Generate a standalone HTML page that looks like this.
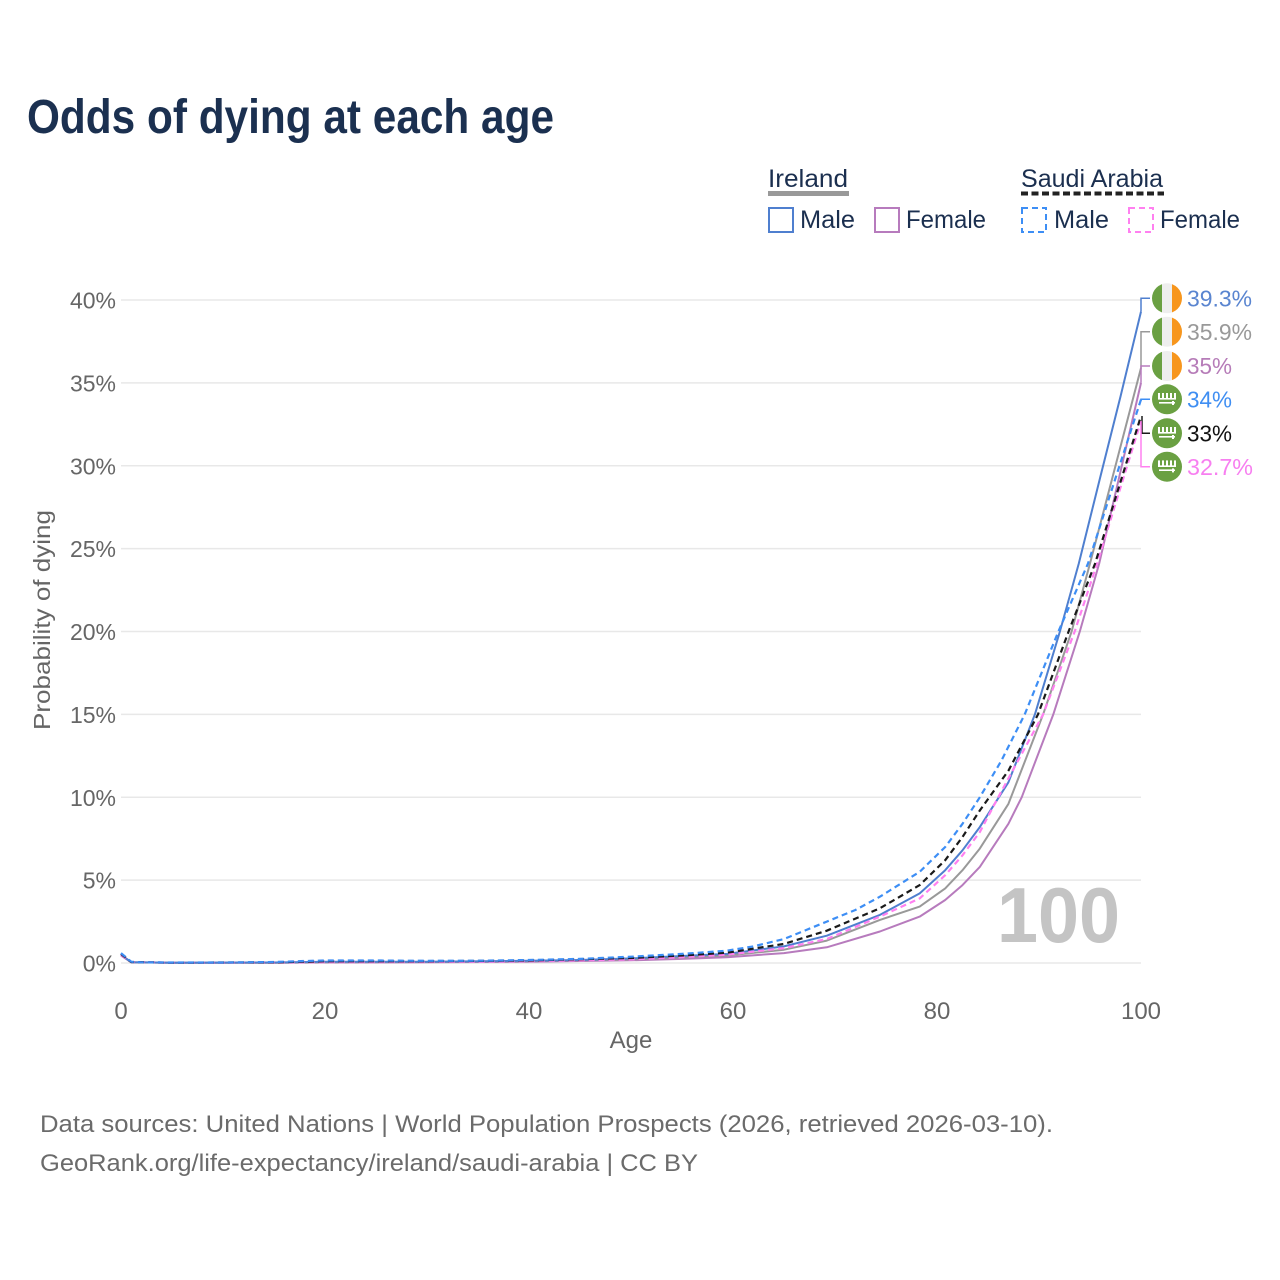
<!DOCTYPE html>
<html>
<head>
<meta charset="utf-8">
<style>
  html, body { margin: 0; padding: 0; background: #ffffff; }
  svg { display: block; }
  text { font-family: "Liberation Sans", sans-serif; }
</style>
</head>
<body>
<svg width="1280" height="1280" viewBox="0 0 1280 1280" xmlns="http://www.w3.org/2000/svg">
  <defs>
    <clipPath id="c1"><circle cx="1167" cy="298.3" r="15"/></clipPath>
    <clipPath id="c2"><circle cx="1167" cy="331.7" r="15"/></clipPath>
    <clipPath id="c3"><circle cx="1167" cy="366" r="15"/></clipPath>
  </defs>
  <rect width="1280" height="1280" fill="#ffffff"/>

  <!-- Title -->
  <text x="27" y="133" font-size="48" font-weight="bold" fill="#1b3050" textLength="527" lengthAdjust="spacingAndGlyphs">Odds of dying at each age</text>

  <!-- Legend -->
  <text x="768" y="187" font-size="25" fill="#1b2f4f" textLength="80" lengthAdjust="spacingAndGlyphs">Ireland</text>
  <rect x="768" y="191" width="81" height="5" fill="#999999"/>
  <text x="1021" y="187" font-size="25" fill="#1b2f4f" textLength="142" lengthAdjust="spacingAndGlyphs">Saudi Arabia</text>
  <line x1="1021" y1="193.5" x2="1164" y2="193.5" stroke="#222222" stroke-width="4" stroke-dasharray="7 3.5"/>

  <rect x="769" y="208" width="24" height="24" fill="none" stroke="#4f7fcf" stroke-width="2"/>
  <text x="800" y="228" font-size="25" fill="#1b2f4f" textLength="55" lengthAdjust="spacingAndGlyphs">Male</text>
  <rect x="875" y="208" width="24" height="24" fill="none" stroke="#b77bbd" stroke-width="2"/>
  <text x="906" y="228" font-size="25" fill="#1b2f4f" textLength="80" lengthAdjust="spacingAndGlyphs">Female</text>
  <rect x="1022" y="208" width="24" height="24" fill="none" stroke="#3d8ef5" stroke-width="2" stroke-dasharray="6 4"/>
  <text x="1054" y="228" font-size="25" fill="#1b2f4f" textLength="55" lengthAdjust="spacingAndGlyphs">Male</text>
  <rect x="1129" y="208" width="24" height="24" fill="none" stroke="#ff80f0" stroke-width="2" stroke-dasharray="6 4"/>
  <text x="1160" y="228" font-size="25" fill="#1b2f4f" textLength="80" lengthAdjust="spacingAndGlyphs">Female</text>

  <!-- Gridlines -->
  <g stroke="#e8e8e8" stroke-width="1.5">
    <line x1="121" y1="300" x2="1141" y2="300"/>
    <line x1="121" y1="382.9" x2="1141" y2="382.9"/>
    <line x1="121" y1="465.75" x2="1141" y2="465.75"/>
    <line x1="121" y1="548.6" x2="1141" y2="548.6"/>
    <line x1="121" y1="631.5" x2="1141" y2="631.5"/>
    <line x1="121" y1="714.4" x2="1141" y2="714.4"/>
    <line x1="121" y1="797.25" x2="1141" y2="797.25"/>
    <line x1="121" y1="880.1" x2="1141" y2="880.1"/>
    <line x1="121" y1="963" x2="1141" y2="963"/>
  </g>

  <!-- Y tick labels -->
  <g font-size="23" fill="#666666" text-anchor="end">
    <text x="116" y="308.5">40%</text>
    <text x="116" y="391.4">35%</text>
    <text x="116" y="474.3">30%</text>
    <text x="116" y="557.1">25%</text>
    <text x="116" y="640">20%</text>
    <text x="116" y="722.9">15%</text>
    <text x="116" y="805.8">10%</text>
    <text x="116" y="888.6">5%</text>
    <text x="116" y="971.5">0%</text>
  </g>

  <!-- X tick labels -->
  <g font-size="24" fill="#666666" text-anchor="middle">
    <text x="121" y="1019">0</text>
    <text x="325" y="1019">20</text>
    <text x="529" y="1019">40</text>
    <text x="733" y="1019">60</text>
    <text x="937" y="1019">80</text>
    <text x="1141" y="1019">100</text>
  </g>
  <text x="631" y="1048" font-size="24" fill="#666666" text-anchor="middle">Age</text>
  <text transform="translate(50,620) rotate(-90)" font-size="23" fill="#666666" text-anchor="middle" textLength="220" lengthAdjust="spacingAndGlyphs">Probability of dying</text>

  <!-- Watermark -->
  <text x="997" y="942" font-size="78" font-weight="bold" fill="#c4c4c4" textLength="123" lengthAdjust="spacingAndGlyphs">100</text>

  <!-- Series -->
  <g fill="none" stroke-width="2" stroke-linejoin="round" stroke-linecap="butt">
    <path stroke="#b77bbd" d="M121,955.5 L131.2,962.3 172,962.8 274,962.8 325,962.5 427,962.3 529,961.8 631,960.3 682,958.9 726.9,957.2 784,953.1 826.8,947.3 879.9,931.5 919.7,916.6 945.2,900 962.5,885.1 979.8,866.9 1008.4,823.8 1021.7,797.3 1053.3,714.4 1079.8,631.5 1099.2,563.5 1141,382.9"/>
    <path stroke="#999999" d="M121,954.7 L131.2,962.2 172,962.8 274,962.7 325,962.2 427,962 529,961.3 631,959.4 682,957.5 726.9,955.5 784,949.7 826.8,940.6 879.9,919.9 919.7,906.6 945.2,888.4 962.5,870.2 979.8,848.6 1008.4,803.9 1043.1,714.4 1071.6,631.5 1090,563.5 1141,368"/>
    <path stroke="#4f7fcf" d="M121,954.7 L131.2,962.2 172,962.8 274,962.5 325,961.7 427,961.7 529,960.8 580,960 631,958.4 682,956 726.9,953.9 784,946.4 826.8,935.7 879.9,914.9 919.7,893.4 945.2,870.2 962.5,850.3 979.8,827.1 1008.4,782.3 1034.9,714.4 1059.9,631.5 1078.8,563.5 1100.2,477.4 1120.6,396.1 1141,311.6"/>
    <path stroke="#ff80f0" stroke-width="2.2" stroke-dasharray="6 4" d="M121,954.7 L131.2,962 172,962.7 274,962.5 325,962.2 427,962 529,961.3 631,959.4 682,957.2 726.9,954.7 784,948.1 826.8,939 879.9,916.6 919.7,898.4 945.2,875.2 962.5,855.3 979.8,832.1 998.2,797.3 1043.1,714.4 1074.7,631.5 1097.1,563.5 1141,421"/>
    <path stroke="#1a1a1a" stroke-width="2.2" stroke-dasharray="6 4" d="M121,953.9 L131.2,962 172,962.7 274,962.3 325,961.3 427,961.3 529,960.5 631,958 682,955.5 726.9,952.7 784,943.9 826.8,930.7 879.9,908.3 919.7,885.1 945.2,860.2 962.5,837 979.8,810.5 1008.4,770.7 1038,714.4 1068.6,631.5 1095.1,563.5 1141,416"/>
    <path stroke="#3d8ef5" stroke-width="2.2" stroke-dasharray="6 4" d="M121,953.1 L131.2,961.7 141.4,962.3 172,962.5 223,962.5 274,962 304.6,961 325,960.5 376,960.5 427,960.8 478,960.7 529,960 580,958.9 631,956.7 682,953.9 726.9,950.7 753.4,946.4 784,939 826.8,921.6 855.4,910 879.9,896.7 919.7,871.8 945.2,847 962.5,823.8 979.8,797.3 1001.3,760.8 1024.7,714.4 1058.4,631.5 1088,563.5 1110.4,493.9 1141,399.5"/>
  </g>

  <!-- Connectors -->
  <g fill="none" stroke-width="1.5">
    <path stroke="#4f7fcf" d="M1141,311.6 V298.3 H1150"/>
    <path stroke="#999999" d="M1141,368 V331.7 H1150"/>
    <path stroke="#b77bbd" d="M1141,382.9 V366 H1150"/>
    <path stroke="#3d8ef5" d="M1141,401 V399.3 H1150"/>
    <path stroke="#1a1a1a" d="M1142,416 V433.3 H1150"/>
    <path stroke="#ff80f0" d="M1141,421 V466.7 H1150"/>
  </g>

  <!-- Ireland flags -->
  <g clip-path="url(#c1)">
    <rect x="1152" y="283" width="10" height="31" fill="#6aa042"/>
    <rect x="1162" y="283" width="10" height="31" fill="#eeeeee"/>
    <rect x="1172" y="283" width="10" height="31" fill="#f7961d"/>
  </g>
  <g clip-path="url(#c2)">
    <rect x="1152" y="316" width="10" height="31" fill="#6aa042"/>
    <rect x="1162" y="316" width="10" height="31" fill="#eeeeee"/>
    <rect x="1172" y="316" width="10" height="31" fill="#f7961d"/>
  </g>
  <g clip-path="url(#c3)">
    <rect x="1152" y="350" width="10" height="32" fill="#6aa042"/>
    <rect x="1162" y="350" width="10" height="32" fill="#eeeeee"/>
    <rect x="1172" y="350" width="10" height="32" fill="#f7961d"/>
  </g>

  <!-- Saudi flags -->
  <g>
    <circle cx="1167" cy="399.3" r="15" fill="#6aa042"/>
    <g fill="#ffffff">
      <rect x="1158" y="393" width="2" height="6"/><rect x="1162" y="393" width="2" height="6"/><rect x="1166" y="393" width="2" height="6"/><rect x="1170" y="393" width="2" height="6"/><rect x="1174" y="393" width="2" height="6"/>
      <rect x="1158" y="398" width="18" height="1.6"/>
      <rect x="1159" y="402" width="16" height="1.6"/>
      <rect x="1172" y="401" width="2" height="4"/>
    </g>
    <circle cx="1167" cy="433.3" r="15" fill="#6aa042"/>
    <g fill="#ffffff">
      <rect x="1158" y="427" width="2" height="6"/><rect x="1162" y="427" width="2" height="6"/><rect x="1166" y="427" width="2" height="6"/><rect x="1170" y="427" width="2" height="6"/><rect x="1174" y="427" width="2" height="6"/>
      <rect x="1158" y="432" width="18" height="1.6"/>
      <rect x="1159" y="436" width="16" height="1.6"/>
      <rect x="1172" y="435" width="2" height="4"/>
    </g>
    <circle cx="1167" cy="466.7" r="15" fill="#6aa042"/>
    <g fill="#ffffff">
      <rect x="1158" y="460.4" width="2" height="6"/><rect x="1162" y="460.4" width="2" height="6"/><rect x="1166" y="460.4" width="2" height="6"/><rect x="1170" y="460.4" width="2" height="6"/><rect x="1174" y="460.4" width="2" height="6"/>
      <rect x="1158" y="465.4" width="18" height="1.6"/>
      <rect x="1159" y="469.4" width="16" height="1.6"/>
      <rect x="1172" y="468.4" width="2" height="4"/>
    </g>
  </g>

  <!-- End labels -->
  <g font-size="23">
    <text x="1187" y="306.5" fill="#5a85d0" textLength="65" lengthAdjust="spacingAndGlyphs">39.3%</text>
    <text x="1187" y="340" fill="#999999" textLength="65" lengthAdjust="spacingAndGlyphs">35.9%</text>
    <text x="1187" y="374" fill="#b67cb8" textLength="45" lengthAdjust="spacingAndGlyphs">35%</text>
    <text x="1187" y="407.5" fill="#3f8ef2" textLength="45" lengthAdjust="spacingAndGlyphs">34%</text>
    <text x="1187" y="441.5" fill="#111111" textLength="45" lengthAdjust="spacingAndGlyphs">33%</text>
    <text x="1187" y="475" fill="#f77ff0" textLength="66" lengthAdjust="spacingAndGlyphs">32.7%</text>
  </g>

  <!-- Footer -->
  <text x="40" y="1132" font-size="24" fill="#6b6b6b" textLength="1013" lengthAdjust="spacingAndGlyphs">Data sources: United Nations | World Population Prospects (2026, retrieved 2026-03-10).</text>
  <text x="40" y="1171" font-size="24" fill="#6b6b6b" textLength="658" lengthAdjust="spacingAndGlyphs">GeoRank.org/life-expectancy/ireland/saudi-arabia | CC BY</text>
</svg>
</body>
</html>
